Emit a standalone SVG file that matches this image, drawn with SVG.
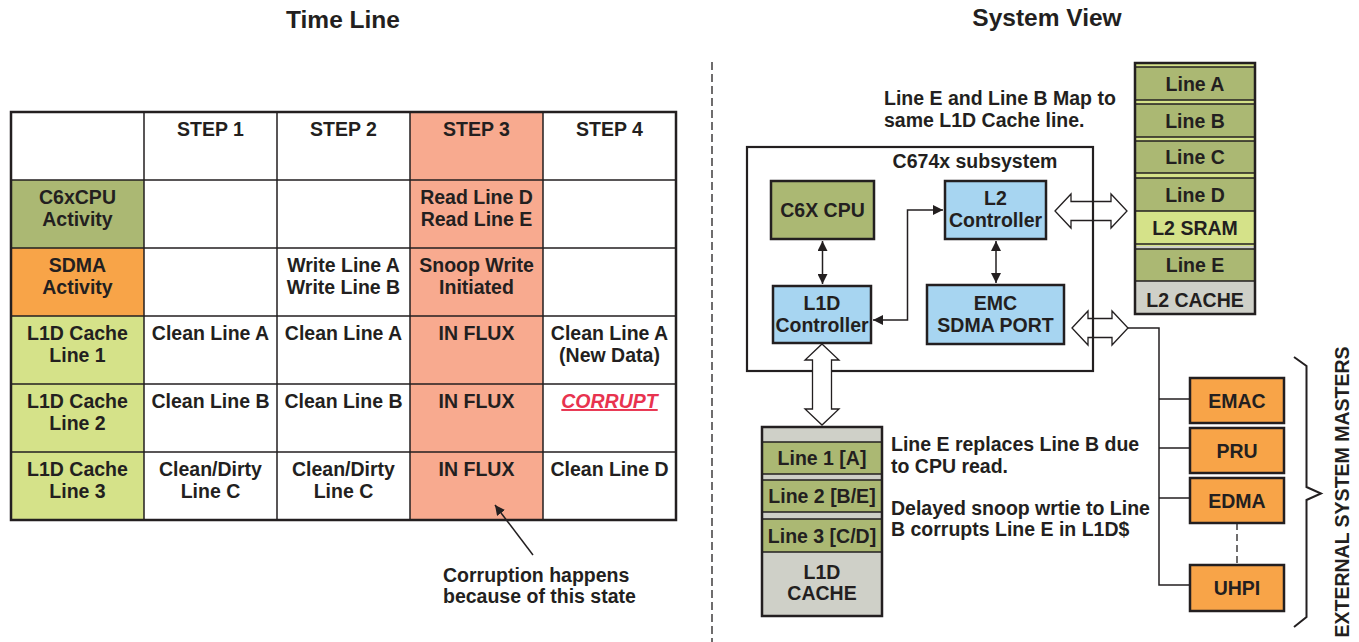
<svg xmlns="http://www.w3.org/2000/svg" width="1359" height="642" viewBox="0 0 1359 642">
<defs>
<style>
text{font-family:"Liberation Sans",Arial,sans-serif;font-weight:bold;fill:#231f20;font-size:19.5px}
.c{text-anchor:middle}
.t{font-size:24.5px}
.grid{stroke:#231f20;stroke-width:1.5;fill:none}
.box{stroke:#231f20;stroke-width:2.5}
.ln{stroke:#231f20;stroke-width:1.5;fill:none}
.olive{fill:#abb873}
.lgreen{fill:#d5e289}
.orange{fill:#f8a448}
.salmon{fill:#f8aa8f}
.blue{fill:#a7d5f1}
.gray{fill:#cfd0c8}
.barrow{fill:#fff;stroke:#231f20;stroke-width:1.3}
</style>
<marker id="ah" viewBox="0 0 10 10" refX="10" refY="5" markerWidth="10" markerHeight="10" markerUnits="userSpaceOnUse" orient="auto-start-reverse">
<path d="M0,0 L10,5 L0,10 z" fill="#231f20"/>
</marker>
</defs>
<rect width="1359" height="642" fill="#fff"/>

<!-- Titles -->
<text class="c t" x="343" y="28">Time Line</text>
<text class="c t" x="1047" y="26">System View</text>
<line x1="712" y1="62" x2="712" y2="642" stroke="#231f20" stroke-width="1.3" stroke-dasharray="8,4"/>

<!-- Time line table -->
<g id="table">
<rect class="olive" x="11" y="180" width="133" height="68"/>
<rect class="orange" x="11" y="248" width="133" height="68"/>
<rect class="lgreen" x="11" y="316" width="133" height="204"/>
<rect class="salmon" x="410" y="112" width="133" height="408"/>
<path class="grid" d="M144,112V520M277,112V520M410,112V520M543,112V520M11,180H676M11,248H676M11,316H676M11,384H676M11,452H676"/>
<rect x="11" y="112" width="665" height="408" fill="none" stroke="#231f20" stroke-width="2.5"/>
<text class="c" x="210.5" y="136">STEP 1</text>
<text class="c" x="343.5" y="136">STEP 2</text>
<text class="c" x="476.5" y="136">STEP 3</text>
<text class="c" x="609.5" y="136">STEP 4</text>
<text class="c" x="77.5" y="204">C6xCPU</text>
<text class="c" x="77.5" y="226">Activity</text>
<text class="c" x="77.5" y="272">SDMA</text>
<text class="c" x="77.5" y="294">Activity</text>
<text class="c" x="77.5" y="340">L1D Cache</text>
<text class="c" x="77.5" y="362">Line 1</text>
<text class="c" x="77.5" y="408">L1D Cache</text>
<text class="c" x="77.5" y="430">Line 2</text>
<text class="c" x="77.5" y="476">L1D Cache</text>
<text class="c" x="77.5" y="498">Line 3</text>
<text class="c" x="476.5" y="204">Read Line D</text>
<text class="c" x="476.5" y="226">Read Line E</text>
<text class="c" x="343.5" y="272">Write Line A</text>
<text class="c" x="343.5" y="294">Write Line B</text>
<text class="c" x="476.5" y="272">Snoop Write</text>
<text class="c" x="476.5" y="294">Initiated</text>
<text class="c" x="210.5" y="340">Clean Line A</text>
<text class="c" x="343.5" y="340">Clean Line A</text>
<text class="c" x="476.5" y="340">IN FLUX</text>
<text class="c" x="609.5" y="340">Clean Line A</text>
<text class="c" x="609.5" y="362">(New Data)</text>
<text class="c" x="210.5" y="408">Clean Line B</text>
<text class="c" x="343.5" y="408">Clean Line B</text>
<text class="c" x="476.5" y="408">IN FLUX</text>
<text class="c" x="609.5" y="408" style="fill:#e8334f;font-style:italic;text-decoration:underline">CORRUPT</text>
<text class="c" x="210.5" y="476">Clean/Dirty</text>
<text class="c" x="210.5" y="498">Line C</text>
<text class="c" x="343.5" y="476">Clean/Dirty</text>
<text class="c" x="343.5" y="498">Line C</text>
<text class="c" x="476.5" y="476">IN FLUX</text>
<text class="c" x="609.5" y="476">Clean Line D</text>
</g>

<g id="note-corruption">
<line class="ln" x1="533" y1="555" x2="495" y2="505" marker-end="url(#ah)"/>
<text x="443" y="582">Corruption happens</text>
<text x="443" y="603">because of this state</text>
</g>

<!-- System view -->
<g id="connectors">
<!-- block arrows horizontal -->
<path class="barrow" d="M1055,211 L1071,194 L1071,201.5 L1111,201.5 L1111,194 L1127,211 L1111,228 L1111,220.5 L1071,220.5 L1071,228 Z"/>
<path class="barrow" d="M1072,328 L1088,311 L1088,318.5 L1112,318.5 L1112,311 L1128,328 L1112,345 L1112,337.5 L1088,337.5 L1088,345 Z"/>
<path class="ln" d="M1128,328H1159V585H1190M1159,399H1190M1159,448H1190M1159,498H1190"/>
<line x1="1237" y1="523" x2="1237" y2="565" stroke="#231f20" stroke-width="1.3" stroke-dasharray="7,4"/>
<line class="ln" x1="822.5" y1="241" x2="822.5" y2="284" marker-start="url(#ah)" marker-end="url(#ah)"/>
<line class="ln" x1="996" y1="241" x2="996" y2="283" marker-start="url(#ah)" marker-end="url(#ah)"/>
<path class="ln" d="M873,320H907.5V210H943" marker-start="url(#ah)" marker-end="url(#ah)"/>
</g>

<g id="subsystem">
<rect x="747" y="147" width="346" height="224" fill="none" stroke="#231f20" stroke-width="2.2"/>
<text class="c" x="975" y="168">C674x subsystem</text>
</g>

<g id="l1d-arrow">
<path class="barrow" d="M822,344 L839,360 L831.5,360 L831.5,409 L839,409 L822,425 L805,409 L812.5,409 L812.5,360 L805,360 Z"/>
</g>

<g id="cpu">
<rect class="olive box" x="771" y="181" width="103" height="58"/>
<text class="c" x="822.5" y="217">C6X CPU</text>
</g>
<g id="l2ctrl">
<rect class="blue box" x="945" y="181" width="101" height="58"/>
<text class="c" x="995.5" y="205">L2</text>
<text class="c" x="995.5" y="227">Controller</text>
</g>
<g id="l1dctrl">
<rect class="blue box" x="773" y="286" width="98" height="57"/>
<text class="c" x="822" y="310">L1D</text>
<text class="c" x="822" y="332">Controller</text>
</g>
<g id="emc">
<rect class="blue box" x="927" y="285" width="137" height="59"/>
<text class="c" x="995.5" y="310">EMC</text>
<text class="c" x="995.5" y="332">SDMA PORT</text>
</g>

<g id="note-map">
<text x="884" y="105">Line E and Line B Map to</text>
<text x="884" y="127">same L1D Cache line.</text>
</g>

<g id="l2stack">
<rect class="lgreen" x="1135" y="63" width="120" height="183"/>
<rect class="gray" x="1135" y="246" width="120" height="68"/>
<rect class="olive ln" x="1135" y="67" width="120" height="33"/>
<rect class="olive ln" x="1135" y="104" width="120" height="33"/>
<rect class="olive ln" x="1135" y="141" width="120" height="32"/>
<rect class="olive ln" x="1135" y="178" width="120" height="33"/>
<line class="ln" x1="1135" y1="244" x2="1255" y2="244"/>
<rect class="olive ln" x="1135" y="249" width="120" height="32"/>
<rect x="1135" y="63" width="120" height="251" fill="none" stroke="#231f20" stroke-width="2.5"/>
<text class="c" x="1195" y="91">Line A</text>
<text class="c" x="1195" y="128">Line B</text>
<text class="c" x="1195" y="164">Line C</text>
<text class="c" x="1195" y="202">Line D</text>
<text class="c" x="1195" y="235">L2 SRAM</text>
<text class="c" x="1195" y="272">Line E</text>
<text class="c" x="1195" y="307">L2 CACHE</text>
</g>

<g id="l1dstack">
<rect class="gray" x="762" y="427" width="120" height="189"/>
<rect class="olive ln" x="762" y="442" width="120" height="32"/>
<rect class="olive ln" x="762" y="480" width="120" height="32"/>
<rect class="olive ln" x="762" y="519" width="120" height="33"/>
<rect x="762" y="427" width="120" height="189" fill="none" stroke="#231f20" stroke-width="2.5"/>
<text class="c" x="822" y="465">Line 1 [A]</text>
<text class="c" x="822" y="503">Line 2 [B/E]</text>
<text class="c" x="822" y="543">Line 3 [C/D]</text>
<text class="c" x="822" y="579">L1D</text>
<text class="c" x="822" y="600">CACHE</text>
</g>

<g id="note-replace">
<text x="891" y="451">Line E replaces Line B due</text>
<text x="891" y="473">to CPU read.</text>
<text x="891" y="515">Delayed snoop wrtie to Line</text>
<text x="891" y="536">B corrupts Line E in L1D$</text>
</g>

<g id="emac"><rect class="orange box" x="1190" y="378" width="94" height="45"/><text class="c" x="1237" y="408">EMAC</text></g>
<g id="pru"><rect class="orange box" x="1190" y="428" width="94" height="45"/><text class="c" x="1237" y="458">PRU</text></g>
<g id="edma"><rect class="orange box" x="1190" y="478" width="94" height="45"/><text class="c" x="1237" y="508">EDMA</text></g>
<g id="uhpi"><rect class="orange box" x="1190" y="565" width="94" height="46"/><text class="c" x="1237" y="595">UHPI</text></g>

<g id="masters-brace">
<path d="M1294,357 L1306.5,366 V487 L1321,493.5 L1306.5,500 V617 L1294,627" fill="none" stroke="#231f20" stroke-width="2"/>
<text class="c" transform="translate(1349,492) rotate(-90)">EXTERNAL SYSTEM MASTERS</text>
</g>
</svg>
